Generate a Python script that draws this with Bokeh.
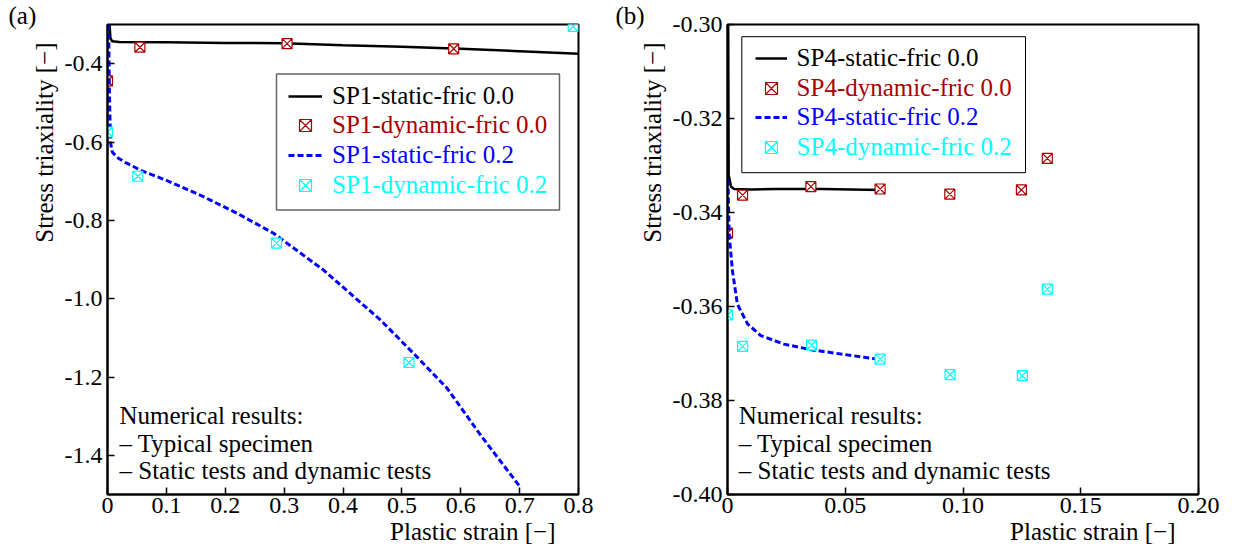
from bokeh.plotting import figure
from bokeh.layouts import row
from bokeh.models import (FixedTicker, Label, Legend, LegendItem, BoxAnnotation, Title)
from bokeh.embed import file_html
from bokeh.resources import INLINE

# ---------------- data: panel (a) SP1 ----------------
sp1_static_f00_x = [0.0035, 0.005, 0.008, 0.02, 0.1, 0.2, 0.3, 0.4, 0.5, 0.6, 0.7, 0.8]
sp1_static_f00_y = [-0.30, -0.335, -0.343, -0.3445, -0.3455, -0.347, -0.348, -0.353, -0.357, -0.362, -0.368, -0.3745]
sp1_dyn_f00_x = [0.0, 0.055, 0.305, 0.588]
sp1_dyn_f00_y = [-0.444, -0.358, -0.349, -0.362]
sp1_static_f02_x = [0.002, 0.003, 0.005, 0.008, 0.015, 0.03, 0.056, 0.1, 0.158, 0.22, 0.282,
                    0.367, 0.464, 0.52, 0.577, 0.634, 0.701]
sp1_static_f02_y = [-0.30, -0.45, -0.60, -0.625, -0.638, -0.652, -0.672, -0.698, -0.736, -0.782, -0.833,
                    -0.927, -1.055, -1.14, -1.229, -1.349, -1.481]
sp1_dyn_f02_x = [0.0, 0.0515, 0.287, 0.512, 0.791]
sp1_dyn_f02_y = [-0.5745, -0.6875, -0.858, -1.163, -0.305]

xticks_a = [0, 0.1, 0.2, 0.3, 0.4, 0.5, 0.6, 0.7, 0.8]
xtick_labels_a = ["0", "0.1", "0.2", "0.3", "0.4", "0.5", "0.6", "0.7", "0.8"]
yticks_a = [-0.4, -0.6, -0.8, -1.0, -1.2, -1.4]
ytick_labels_a = ["-0.4", "-0.6", "-0.8", "-1.0", "-1.2", "-1.4"]
labels_a = ["SP1-static-fric 0.0", "SP1-dynamic-fric 0.0", "SP1-static-fric 0.2", "SP1-dynamic-fric 0.2"]

# ---------------- data: panel (b) SP4 ----------------
sp4_static_f00_x = [0.0003, 0.0005, 0.0015, 0.0028, 0.01, 0.02, 0.04, 0.065]
sp4_static_f00_y = [-0.30, -0.332, -0.3345, -0.3350, -0.3351, -0.3350, -0.3350, -0.3352]
sp4_dyn_f00_x = [0.0, 0.0064, 0.0354, 0.0648, 0.0944, 0.1248, 0.1358]
sp4_dyn_f00_y = [-0.3444, -0.3363, -0.3345, -0.3350, -0.3361, -0.3352, -0.3285]
sp4_static_f02_x = [0.0002, 0.0007, 0.0021, 0.0042, 0.0085, 0.0141, 0.024, 0.0354, 0.0495, 0.0637]
sp4_static_f02_y = [-0.333, -0.3446, -0.3524, -0.3595, -0.3637, -0.3662, -0.368, -0.3692, -0.3702, -0.3712]
sp4_dyn_f02_x = [0.0, 0.0064, 0.0357, 0.0648, 0.0945, 0.1252, 0.1358]
sp4_dyn_f02_y = [-0.3618, -0.3685, -0.3682, -0.3712, -0.3745, -0.3747, -0.3563]

xticks_b = [0, 0.05, 0.10, 0.15, 0.20]
xtick_labels_b = ["0", "0.05", "0.10", "0.15", "0.20"]
yticks_b = [-0.30, -0.32, -0.34, -0.36, -0.38, -0.40]
ytick_labels_b = ["-0.30", "-0.32", "-0.34", "-0.36", "-0.38", "-0.40"]
labels_b = ["SP4-static-fric 0.0", "SP4-dynamic-fric 0.0", "SP4-static-fric 0.2", "SP4-dynamic-fric 0.2"]

note_lines = ["Numerical results:", "\u2013 Typical specimen", "\u2013 Static tests and dynamic tests"]
x_label = "Plastic strain [\u2212]"
y_label = "Stress triaxiality [\u2212]"

FONT = "Liberation Serif"
DARKRED = "#aa0000"
BLUE = "#0000ff"
CYAN = "#00ffff"
colors = ["black", DARKRED, BLUE, CYAN]
FW, FH = 471, 470
TOP = 24


def make_panel(tag, xr, yr, xt, xtl, yt, ytl, data, labels, min_left, min_right,
               legend_box, legend_left, legend_rows, glyph_w, legend_border, legend_bw,
               tag_off, note_x, xlab_off):
    p = figure(frame_width=FW, frame_height=FH,
               x_range=xr, y_range=yr, output_backend="svg", toolbar_location=None,
               min_border_left=min_left, min_border_right=min_right,
               min_border_top=TOP, min_border_bottom=60)
    p.background_fill_color = "white"
    p.border_fill_color = "white"
    p.grid.visible = False
    p.outline_line_color = "black"
    p.outline_line_width = 2
    p.outline_line_alpha = 1

    for ax, ticks, labs, so in ((p.xaxis[0], xt, xtl, 3), (p.yaxis[0], yt, ytl, 5)):
        ax.ticker = FixedTicker(ticks=ticks)
        ax.major_label_overrides = {t: l for t, l in zip(ticks, labs)}
        ax.major_tick_in = 7
        ax.major_tick_out = 0
        ax.minor_tick_line_color = None
        ax.axis_line_width = 2
        ax.axis_line_color = "black"
        ax.major_tick_line_width = 1.5
        ax.major_label_text_font = FONT
        ax.major_label_text_font_size = "24px"
        ax.major_label_text_color = "black"
        ax.major_label_standoff = so

    (sx0, sy0), (dx0, dy0), (sx2, sy2), (dx2, dy2) = data
    r0 = p.line(sx0, sy0, line_color="black", line_width=2.5)
    r1 = p.scatter(dx0, dy0, marker="square_x", size=10, line_color=DARKRED,
                   fill_color="white", line_width=1.2)
    r2 = p.line(sx2, sy2, line_color=BLUE, line_width=3, line_dash="6 3")
    r3 = p.scatter(dx2, dy2, marker="square_x", size=10, line_color=CYAN,
                   fill_color="white", line_width=1.2)

    # legend frame
    bl, br, bt, bb = legend_box
    box = BoxAnnotation(left=bl, right=br, top=bt, bottom=bb,
                        left_units="screen", right_units="screen",
                        top_units="screen", bottom_units="screen",
                        fill_color="white", fill_alpha=1.0,
                        line_color=legend_border, line_width=legend_bw, line_alpha=1)
    p.add_layout(box)

    for rend, lab, col, cy in zip([r0, r1, r2, r3], labels, colors, legend_rows):
        lg = Legend(items=[LegendItem(label=lab, renderers=[rend])],
                    location=(legend_left, FH - (cy + 15)),
                    padding=0, margin=0, spacing=0,
                    label_height=30, glyph_height=30, glyph_width=glyph_w,
                    label_standoff=10,
                    label_text_font=FONT, label_text_font_size="25px",
                    label_text_color=col,
                    border_line_alpha=0, background_fill_alpha=0)
        p.add_layout(lg)

    # notes
    for i, t in enumerate(note_lines):
        p.add_layout(Label(x=note_x, y=79 - 27.5 * i, x_units="screen", y_units="screen",
                           text=t, text_font=FONT, text_font_size="25px",
                           text_baseline="middle", text_align="left", text_color="black"))

    # axis labels as side titles
    p.add_layout(Title(text=x_label, align="right", offset=xlab_off, standoff=0,
                       text_font=FONT, text_font_size="25px", text_font_style="normal",
                       text_color="black"), "below")
    p.add_layout(Title(text=y_label, align="right", offset=18, standoff=7,
                       text_font=FONT, text_font_size="25px", text_font_style="normal",
                       text_color="black"), "left")
    p.add_layout(Title(text=tag, align="left", offset=tag_off, standoff=-8,
                       text_font=FONT, text_font_size="25px", text_font_style="normal",
                       text_color="black"), "above")
    return p


pa = make_panel("(a)", (0, 0.8), (-1.5, -0.3), xticks_a, xtick_labels_a, yticks_a, ytick_labels_a,
                [(sp1_static_f00_x, sp1_static_f00_y), (sp1_dyn_f00_x, sp1_dyn_f00_y),
                 (sp1_static_f02_x, sp1_static_f02_y), (sp1_dyn_f02_x, sp1_dyn_f02_y)],
                labels_a, 107, 33,
                (169, 452, FH - (73 - 23.5), FH - (209 - 23.5)), 181,
                [95 - 23.5, 124.7 - 23.5, 154.4 - 23.5, 184.1 - 23.5], 34, "#666666", 1.5,
                -99, 12, 23)

pb = make_panel("(b)", (0, 0.2), (-0.40, -0.30), xticks_b, xtick_labels_b, yticks_b, ytick_labels_b,
                [(sp4_static_f00_x, sp4_static_f00_y), (sp4_dyn_f00_x, sp4_dyn_f00_y),
                 (sp4_static_f02_x, sp4_static_f02_y), (sp4_dyn_f02_x, sp4_dyn_f02_y)],
                labels_b, 116, 30,
                (14.3, 298, FH - (35.7 - 23.5), FH - (171.7 - 23.5)), 27.6,
                [57.3 - 23.5, 87.3 - 23.5, 116.7 - 23.5, 146.7 - 23.5], 32, "black", 1,
                -112, 11.3, 23)

layout = row(pa, pb)
open("out.html", "w").write(file_html(layout, INLINE))
